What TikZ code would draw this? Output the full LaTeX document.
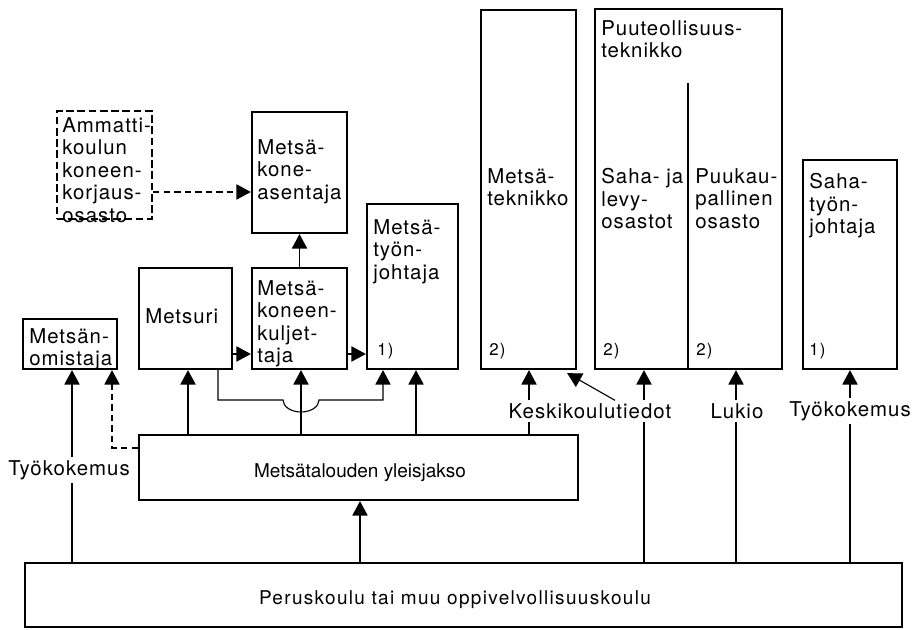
\documentclass[tikz,border=0pt]{standalone}
\usepackage{fontspec}
\setmainfont{TeX Gyre Heros}
\newfontfamily\laatikkofont[LetterSpace=5]{TeX Gyre Heros}
\newfontfamily\leveafont[LetterSpace=7]{TeX Gyre Heros}
\usetikzlibrary{arrows.meta,fit}

\tikzset{
  laatikko/.style={draw, line width=1.6pt, inner sep=0pt},
  teksti/.style={font=\laatikkofont\fontsize{14.5}{16}\selectfont, align=left, anchor=north west, inner sep=0pt},
  viite/.style={font=\leveafont\fontsize{12}{12}\selectfont, anchor=base west, inner sep=0pt},
  nimi/.style={font=\laatikkofont\fontsize{14.5}{16}\selectfont, inner sep=2pt},
  yhteys/.style={line width=0.8pt},
  nuoli/.style={line width=0.8pt, -{Triangle[length=0.36cm, width=0.38cm]}},
  katko/.style={dash pattern=on 4.5pt off 3pt},
}

\begin{document}
\begin{tikzpicture}[x=0.025cm, y=-0.025cm]
\useasboundingbox (0,0) rectangle (917,630);

% Laatikot
\node[laatikko, dash pattern=on 5.5pt off 2.5pt, fit={(57,111) (152,219)}] (ammatti) {};
\node[laatikko, fit={(252,112) (347,233)}] (asentaja) {};
\node[laatikko, fit={(367,204) (458,369)}] (tjohtaja) {};
\node[laatikko, fit={(139,268) (232,369)}] (metsuri) {};
\node[laatikko, fit={(252,268) (347,369)}] (kuljettaja) {};
\node[laatikko, fit={(23,319) (117,369)}] (omistaja) {};
\node[laatikko, fit={(481,10) (576,369)}] (teknikko) {};
\node[laatikko, fit={(595,9) (782,369)}] (puuteoll) {};
\draw[line width=1.6pt] (688,83) -- (688,0 |- puuteoll.south);
\node[laatikko, fit={(803,160) (897,369)}] (sahatj) {};
\node[laatikko, fit={(139,435) (578,500)}] (yleis) {};
\node[laatikko, fit={(25,563) (902,627)}] (perus) {};

% Tekstit
\node[teksti] (t-ammatti) at (62,117) {Ammatti-\\koulun\\koneen-\\korjaus-\\osasto};
\node[teksti] (t-asentaja) at (257,139) {Metsä-\\kone-\\asentaja};
\node[teksti] (t-tjohtaja) at (373,219) {Metsä-\\työn-\\johtaja};
\node[teksti] (t-metsuri) at (145,308) {Metsuri};
\node[teksti] (t-kuljettaja) at (257,280) {Metsä-\\koneen-\\kuljet-\\taja};
\node[teksti] (t-omistaja) at (29,328) {Metsän-\\omistaja};
\node[teksti] (t-teknikko) at (487,168) {Metsä-\\teknikko};
\node[teksti] (t-puuteoll) at (601,20) {Puuteollisuus-\\teknikko};
\node[teksti] (t-saha) at (601,168) {Saha- ja\\levy-\\osastot};
\node[teksti] (t-puukau) at (695,168) {Puukau-\\pallinen\\osasto};
\node[teksti] (t-sahatj) at (809,173) {Saha-\\työn-\\johtaja};
\node[anchor=base, font=\fontsize{13.5}{16}\selectfont] (t-yleis) at (360,477) {Metsätalouden yleisjakso};
\node[anchor=base, font=\leveafont\fontsize{13.5}{16}\selectfont] (t-perus) at (455,604) {Peruskoulu tai muu oppivelvollisuuskoulu};

% Viitteet
\foreach \i/\x/\v in {1/377/1), 2/489/2), 3/603/2), 4/696/2), 5/809/1)}
  \node[viite] (viite\i) at (\x,356) {\v};

% Pohjatiedot
\node[nimi] (tyo1) at (69,470) {Työkokemus};
\node[nimi] (keski) at (590,411) {Keskikoulutiedot};
\node[nimi] (lukio) at (737,411) {Lukio};
\node[nimi] (tyo2) at (850,411) {Työkokemus};

% Peruskoulusta
\draw[yhteys] (72,0 |- perus.north) -- (72,0 |- tyo1.south);
\draw[nuoli] (72,0 |- tyo1.north) -- (72,0 |- omistaja.south);
\draw[nuoli] (360,0 |- perus.north) -- (360,0 |- yleis.south);
\draw[yhteys] (644,0 |- perus.north) -- (644,0 |- keski.south);
\draw[nuoli] (644,0 |- keski.north) -- (644,0 |- puuteoll.south);
\draw[yhteys] (736,0 |- perus.north) -- (736,0 |- lukio.south);
\draw[nuoli] (736,0 |- lukio.north) -- (736,0 |- puuteoll.south);
\draw[yhteys] (850,0 |- perus.north) -- (850,0 |- tyo2.south);
\draw[nuoli] (850,0 |- tyo2.north) -- (850,0 |- sahatj.south);

% Yleisjaksosta
\foreach \x/\kohde in {188/metsuri, 301/kuljettaja, 416/tjohtaja}
  \draw[nuoli] (\x,0 |- yleis.north) -- (\x,0 |- \kohde.south);
\draw[yhteys] (529,0 |- yleis.north) -- (529,0 |- keski.south);
\draw[nuoli] (529,0 |- keski.north) -- (529,0 |- teknikko.south);
\draw[nuoli] (615,0 |- keski.north) -- ([shift={(-10,3)}]teknikko.south east);
\draw[nuoli, katko] (yleis.west |- 0,448) -- (112,448) -- (112,0 |- omistaja.south);

% Ammateista toisiin
\draw[nuoli] (metsuri.east |- 0,354) -- (kuljettaja.west |- 0,354);
\draw[nuoli] (kuljettaja.east |- 0,354) -- (tjohtaja.west |- 0,354);
\draw[nuoli] (kuljettaja.north) -- (asentaja.south);
\draw[nuoli, katko] (ammatti.east |- 0,192) -- (asentaja.west |- 0,192);
\draw[nuoli] (218,0 |- metsuri.south) -- (218,400) -- (283,400)
  arc[start angle=180, end angle=360, x radius=0.45cm, y radius=0.3cm]
  -- (383,400) -- (383,0 |- tjohtaja.south);
\end{tikzpicture}
\end{document}
